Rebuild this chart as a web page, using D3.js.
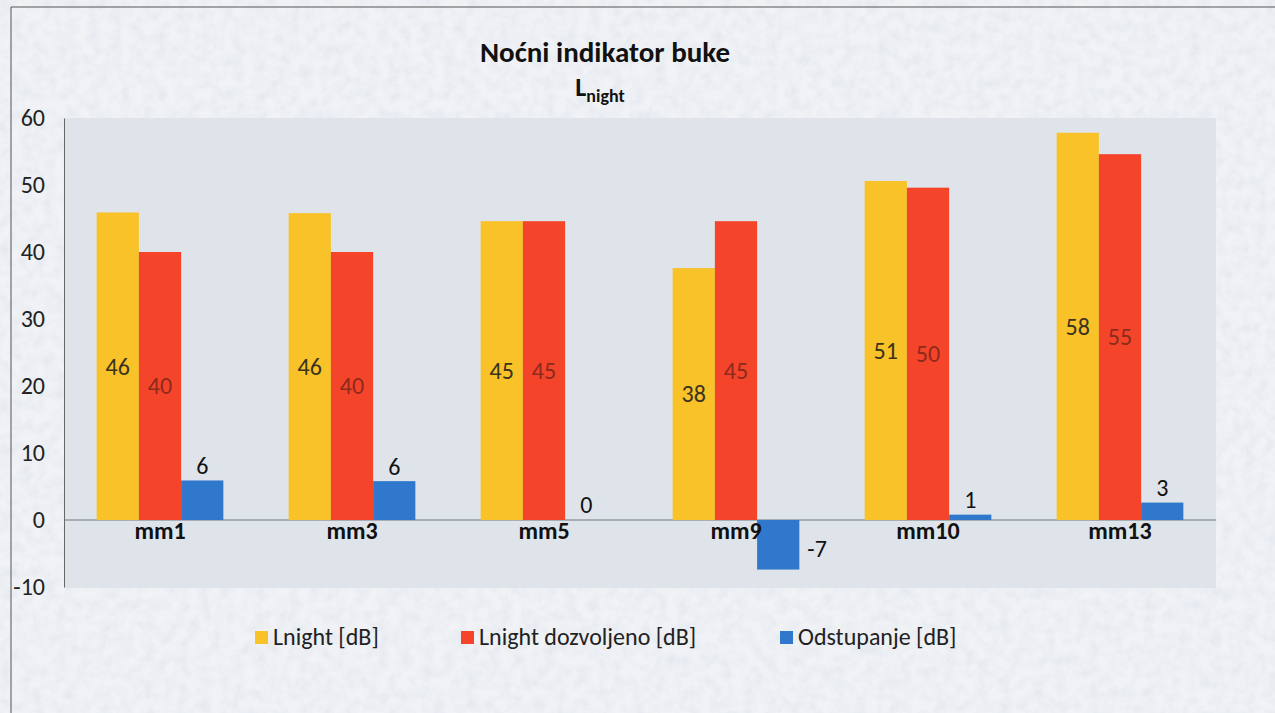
<html>
  <head>
    <meta charset="utf-8">
    <title>Nocni indikator buke</title>
    <style>
      body { margin: 0; background: #e9ecef; }
      text { font-family: Carlito, Calibri, "Open Sans", sans-serif; }
    </style>
  </head>
  <body>
    <script src="https://d3js.org/d3.v7.min.js"></script>
    <script>

    var width = 1275,
        height = 713;

    // data
    var categories = ["mm1", "mm3", "mm5", "mm9", "mm10", "mm13"];
    var lnight = [45.9, 45.8, 44.6, 37.6, 50.6, 57.8];
    var dozvoljeno = [40, 40, 44.6, 44.6, 49.6, 54.6];
    var odstupanje = [5.9, 5.8, 0, -7.4, 0.8, 2.6];
    var labelsL = ["46", "46", "45", "38", "51", "58"];
    var labelsD = ["40", "40", "45", "45", "50", "55"];
    var labelsO = ["6", "6", "0", "-7", "1", "3"];
    var seriesNames = ["Lnight [dB]", "Lnight dozvoljeno [dB]", "Odstupanje [dB]"];
    var yTicks = [-10, 0, 10, 20, 30, 40, 50, 60];

    var colors = ["#f8c228", "#f4452b", "#2f78cb"];
    var labelColors = ["#3a3320", "#8e2a1c", "#111"];

    var svg = d3.select("body").append("svg")
      .attr("width", width).attr("height", height);

    // mottled paper look
    var defs = svg.append("defs");
    var f = defs.append("filter").attr("id", "paper")
      .attr("x", 0).attr("y", 0).attr("width", "100%").attr("height", "100%");
    f.append("feTurbulence").attr("type", "fractalNoise")
      .attr("baseFrequency", 0.09).attr("numOctaves", 3).attr("seed", 4).attr("result", "noise");
    f.append("feColorMatrix").attr("in", "noise").attr("type", "matrix")
      .attr("values", "0 0 0 0 0.74  0 0 0 0 0.78  0 0 0 0 0.84  0 0 0 -1.6 1.05")
      .attr("result", "spots");
    f.append("feComposite").attr("in", "spots").attr("in2", "SourceGraphic").attr("operator", "in");

    svg.append("rect").attr("width", width).attr("height", height).attr("fill", "#f0f2f5");
    svg.append("rect").attr("width", width).attr("height", height).attr("fill", "#fff")
      .attr("filter", "url(#paper)").attr("opacity", 0.75);

    // chart border (left and top only are visible)
    svg.append("path").attr("d", "M11,713V7H1275")
      .attr("fill", "none").attr("stroke", "#555").attr("stroke-width", 1);

    var x0 = d3.scaleBand().domain(categories).range([64, 1216]).paddingInner(0.34).paddingOuter(0.17);
    var x1 = d3.scaleBand().domain(d3.range(3)).range([0, x0.bandwidth()]);
    var y = d3.scaleLinear().domain([-10, 60]).range([587, 118]);

    // plot area
    svg.append("rect").attr("x", 64).attr("y", y(60)).attr("width", 1216 - 64)
      .attr("height", y(-10) - y(60) + 1).attr("fill", "#dfe4eb");

    // y axis
    var yAxis = svg.append("g").attr("transform", "translate(64,0)")
      .call(d3.axisLeft(y).tickValues(yTicks).tickSize(0).tickPadding(19)
        .tickFormat(function (d) { return String(d); }));
    yAxis.select(".domain").attr("stroke", "#666");
    yAxis.selectAll("text").attr("font-size", 24).attr("fill", "#222")
      .attr("font-family", "Carlito, Calibri, 'Open Sans', sans-serif");

    // zero line
    svg.append("line").attr("x1", 64).attr("x2", 1216).attr("y1", y(0)).attr("y2", y(0))
      .attr("stroke", "#6f7780").attr("stroke-width", 1);

    var series = [lnight, dozvoljeno, odstupanje];
    var labels = [labelsL, labelsD, labelsO];

    series.forEach(function (vals, s) {
      var g = svg.append("g");
      g.selectAll("rect").data(vals).enter().append("rect")
        .attr("x", function (d, i) { return x0(categories[i]) + x1(s); })
        .attr("y", function (d) { return y(Math.max(0, d)); })
        .attr("width", x1.bandwidth())
        .attr("height", function (d) { return Math.abs(y(d) - y(0)); })
        .attr("fill", colors[s]);

      g.selectAll("text").data(vals).enter().append("text")
        .attr("x", function (d, i) {
          var bx = x0(categories[i]) + x1(s);
          if (s == 2 && d < 0) return bx + x1.bandwidth() + 8;
          return bx + x1.bandwidth() / 2;
        })
        .attr("y", function (d) {
          if (s < 2) return (y(d) + y(0)) / 2;
          if (d < 0) return (y(d) + y(0)) / 2 + 4;
          return y(d) - 15;
        })
        .attr("dy", "0.35em")
        .attr("text-anchor", function (d) { return (s == 2 && d < 0) ? "start" : "middle"; })
        .attr("font-size", 24)
        .attr("fill", labelColors[s])
        .text(function (d, i) { return labels[s][i]; });
    });

    // category labels
    svg.append("g").selectAll("text").data(categories).enter().append("text")
      .attr("x", function (d) { return x0(d) + x0.bandwidth() / 2; })
      .attr("y", 531).attr("dy", "0.35em")
      .attr("text-anchor", "middle").attr("font-size", 24).attr("font-weight", "bold")
      .attr("fill", "#111")
      .text(function (d) { return d; });

    // title
    svg.append("text").attr("x", 605).attr("y", 62).attr("text-anchor", "middle")
      .attr("font-size", 29).attr("font-weight", "bold").attr("fill", "#111")
      .text("Noćni indikator buke");
    var sub = svg.append("text").attr("x", 600).attr("y", 96).attr("text-anchor", "middle")
      .attr("font-size", 26).attr("font-weight", "bold").attr("fill", "#111");
    sub.append("tspan").text("L");
    sub.append("tspan").attr("font-size", 18).attr("dy", 6).text("night");

    // legend
    var legendX = [255, 461, 780];
    var legend = svg.append("g");
    seriesNames.forEach(function (name, s) {
      legend.append("rect").attr("x", legendX[s]).attr("y", 631).attr("width", 13).attr("height", 13)
        .attr("fill", colors[s]);
      legend.append("text").attr("x", legendX[s] + 18).attr("y", 637).attr("dy", "0.35em")
        .attr("font-size", 24).attr("fill", "#222").text(name);
    });

    </script>
  </body>
</html>
